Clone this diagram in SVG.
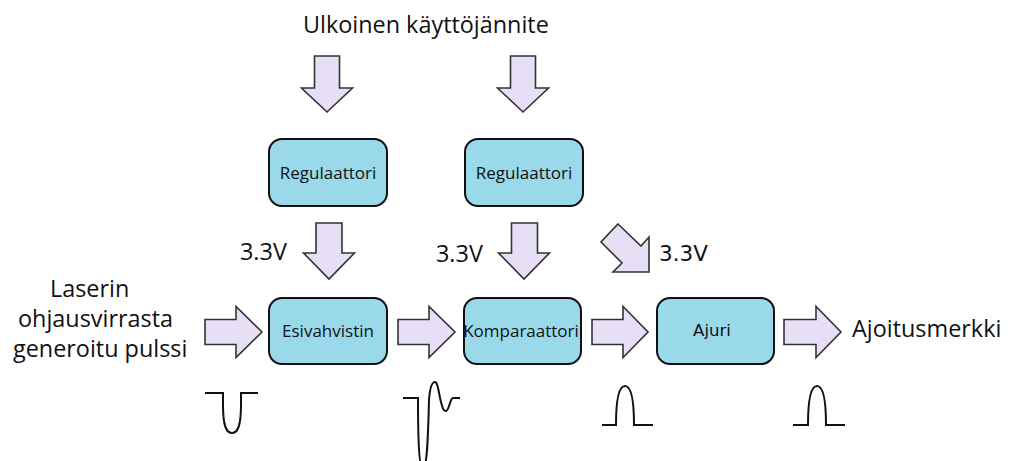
<svg xmlns="http://www.w3.org/2000/svg" width="1016" height="461" viewBox="0 0 1016 461">
<style>
.arr{fill:#e6dff5;stroke:#333;stroke-width:1.6;stroke-linejoin:miter}
.box{fill:#99d9ea;stroke:#111;stroke-width:2}
.big{font-family:"Open Sans","Liberation Sans",sans-serif;font-size:23.4px;fill:#111}
.lbl{font-family:"Open Sans","Liberation Sans",sans-serif;font-size:17px;fill:#111;text-anchor:middle}
.dv{font-family:"DejaVu Sans",sans-serif;fill:#111}
.sig{fill:none;stroke:#111;stroke-width:2}
</style>
<rect width="1016" height="461" fill="#fff"/>
<text class="big" x="303" y="33">Ulkoinen käyttöjännite</text>
<text class="big" x="50" y="297">Laserin</text>
<text class="big" x="18" y="327">ohjausvirrasta</text>
<text class="big" x="13" y="357">generoitu pulssi</text>
<text class="big" x="852" y="337">Ajoitusmerkki</text>
<text class="big" x="240" y="260">3.3V</text>
<text class="big" x="436" y="262">3.3V</text>
<text class="dv" x="659" y="261" font-size="21.5">3.3V</text>
<g id="connectors">
<polygon class="arr" points="314.5,56 339.5,56 339.5,88 352.5,88 327,112 301.5,88 314.5,88"/>
<polygon class="arr" points="510.5,56 535.5,56 535.5,88 548.5,88 523,112 497.5,88 510.5,88"/>
<polygon class="arr" points="316,223 342,223 342,253 354.5,253 329,279 303.5,253 316,253"/>
<polygon class="arr" points="511.5,223 537.5,223 537.5,253 549.5,253 524,279 498.5,253 511.5,253"/>
<polygon class="arr" points="618,224 641,246 649,237 649,272 613,272 622,263 601,242"/>
<polygon class="arr" points="205,319.5 236,319.5 236,306.5 262,332 236,357.5 236,344.5 205,344.5"/>
<polygon class="arr" points="398,319.5 429,319.5 429,306.5 455,332 429,357.5 429,344.5 398,344.5"/>
<polygon class="arr" points="592,319.5 623,319.5 623,306.5 648,332 623,357.5 623,344.5 592,344.5"/>
<polygon class="arr" points="784,319.5 816,319.5 816,306.5 841,332 816,357.5 816,344.5 784,344.5"/>
</g>
<g id="reg1"><rect class="box" x="269" y="139" width="118" height="67" rx="13"/><text class="lbl" x="328" y="178.5">Regulaattori</text></g>
<g id="reg2"><rect class="box" x="465" y="139" width="118" height="67" rx="13"/><text class="lbl" x="524" y="178.5">Regulaattori</text></g>
<g id="esivahvistin"><rect class="box" x="269" y="298" width="118" height="66" rx="13"/><text class="lbl" x="328" y="337">Esivahvistin</text></g>
<g id="komparaattori"><rect class="box" x="464" y="298" width="117" height="66" rx="13"/><text class="lbl" x="521" y="337">Komparaattori</text></g>
<g id="ajuri"><rect class="box" x="657" y="298" width="117" height="66" rx="13"/><text class="dv" x="712" y="336" font-size="16.6" text-anchor="middle">Ajuri</text></g>
<g id="signals">
<path class="sig" d="M205,393 H223 V405 C223,428 227,433 232,433 C237,433 241,428 241,405 V393 H258"/>
<path class="sig" d="M403,398 H418 C418,440 419,468 423,468 C427,468 428,440 429,400 C430,386 432,382 435,382 C438,382 439,395 441,402 C443,410 444,411 446,411 C449,411 450,398 453,398 H460"/>
<path class="sig" d="M602,425 H616 C616,400 619,386 625,386 C631,386 634,400 634,425 H653"/>
<path class="sig" d="M793,425 H808 C808,400 811,386 817,386 C823,386 826,400 826,425 H845"/>
</g>
</svg>
